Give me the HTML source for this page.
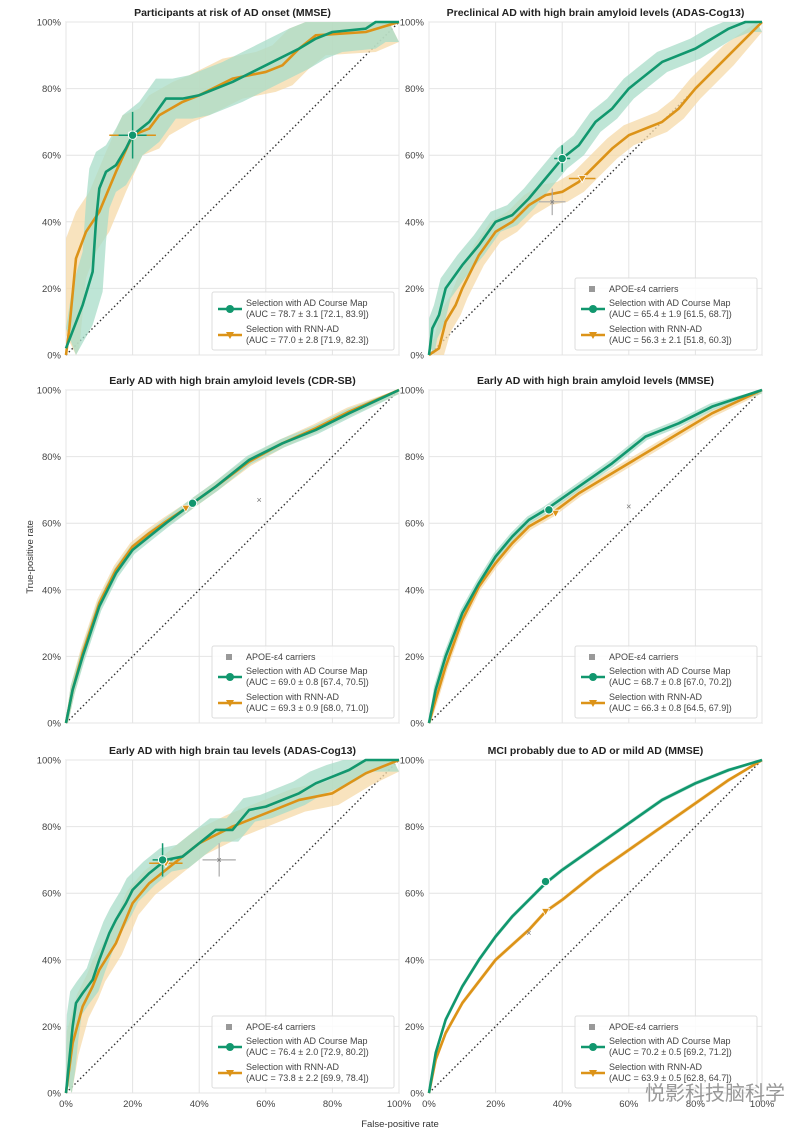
<!DOCTYPE html>
<html><head><meta charset="utf-8"><style>
body{margin:0;background:#fff;}
svg{display:block;font-family:"Liberation Sans","Noto Sans CJK SC",sans-serif;}
</style></head><body>
<svg id="fig" width="811" height="1128" viewBox="0 0 811 1128"></svg>
<script>
// ---- data (FPR, TPR pairs) ----
const titles=["Participants at risk of AD onset (MMSE)","Preclinical AD with high brain amyloid levels (ADAS-Cog13)","Early AD with high brain amyloid levels (CDR-SB)","Early AD with high brain amyloid levels (MMSE)","Early AD with high brain tau levels (ADAS-Cog13)","MCI probably due to AD or mild AD (MMSE)"];
const ticks=[0,0.2,0.4,0.6,0.8,1.0];
const tickLabels=["0%","20%","40%","60%","80%","100%"];
const greenFpr=[
[0,0.05,0.08,0.09,0.10,0.12,0.15,0.18,0.20,0.25,0.30,0.35,0.40,0.50,0.60,0.70,0.75,0.80,0.90,0.93,1],
[0,0.01,0.03,0.05,0.10,0.15,0.20,0.25,0.30,0.35,0.40,0.45,0.50,0.55,0.60,0.70,0.80,0.85,0.90,0.95,1],
[0,0.02,0.05,0.10,0.15,0.20,0.25,0.30,0.38,0.45,0.55,0.65,0.75,0.85,1],
[0,0.02,0.05,0.10,0.15,0.20,0.25,0.30,0.35,0.45,0.55,0.65,0.75,0.85,1],
[0,0.01,0.02,0.03,0.05,0.08,0.10,0.13,0.15,0.18,0.20,0.25,0.30,0.35,0.40,0.45,0.50,0.55,0.60,0.70,0.75,0.80,0.85,0.90,1],
[0,0.02,0.05,0.10,0.15,0.20,0.25,0.30,0.35,0.40,0.50,0.60,0.70,0.80,0.90,1]];
const greenTpr=[
[0.02,0.15,0.25,0.40,0.50,0.55,0.57,0.62,0.66,0.70,0.77,0.77,0.78,0.82,0.87,0.92,0.95,0.97,0.98,1,1],
[0,0.08,0.12,0.20,0.27,0.33,0.40,0.42,0.47,0.53,0.59,0.63,0.70,0.74,0.80,0.88,0.92,0.95,0.98,1,1],
[0,0.10,0.20,0.35,0.45,0.52,0.56,0.60,0.66,0.71,0.79,0.84,0.88,0.93,1],
[0,0.10,0.20,0.33,0.42,0.50,0.56,0.61,0.64,0.71,0.78,0.86,0.90,0.95,1],
[0,0.10,0.20,0.27,0.30,0.34,0.40,0.48,0.52,0.57,0.61,0.66,0.70,0.71,0.75,0.79,0.79,0.85,0.86,0.90,0.93,0.95,0.97,1,1],
[0,0.12,0.22,0.32,0.40,0.47,0.53,0.58,0.63,0.67,0.74,0.81,0.88,0.93,0.97,1]];
const orangeFpr=[
[0,0.01,0.03,0.06,0.10,0.15,0.20,0.25,0.28,0.35,0.40,0.50,0.60,0.65,0.70,0.75,0.90,1],
[0,0.03,0.05,0.08,0.10,0.15,0.20,0.25,0.30,0.35,0.40,0.45,0.50,0.55,0.60,0.70,0.75,0.80,0.85,0.90,1],
[0,0.02,0.05,0.10,0.15,0.20,0.25,0.30,0.36,0.45,0.55,0.65,0.75,0.85,1],
[0,0.02,0.05,0.10,0.15,0.20,0.25,0.30,0.37,0.45,0.55,0.65,0.75,0.85,1],
[0,0.02,0.05,0.08,0.10,0.15,0.20,0.25,0.30,0.40,0.50,0.60,0.70,0.80,0.90,1],
[0,0.02,0.05,0.10,0.20,0.30,0.35,0.40,0.50,0.60,0.70,0.80,0.90,1]];
const orangeTpr=[
[0,0.08,0.29,0.37,0.43,0.55,0.66,0.68,0.72,0.76,0.78,0.83,0.85,0.87,0.92,0.96,0.97,1],
[0,0.02,0.10,0.15,0.20,0.30,0.37,0.40,0.45,0.48,0.49,0.52,0.57,0.62,0.66,0.70,0.74,0.80,0.85,0.90,1],
[0,0.10,0.21,0.36,0.46,0.53,0.57,0.605,0.645,0.71,0.785,0.84,0.885,0.935,1],
[0,0.07,0.17,0.31,0.41,0.48,0.54,0.59,0.63,0.69,0.75,0.81,0.87,0.93,1],
[0,0.15,0.26,0.32,0.37,0.45,0.57,0.63,0.67,0.75,0.80,0.84,0.88,0.90,0.96,1],
[0,0.10,0.18,0.27,0.40,0.49,0.545,0.58,0.66,0.73,0.80,0.87,0.94,1]];
const bandWidth=[0.06,0.03,0.012,0.01,0.035,0.005];
const greenPoint=[[0.20,0.66],[0.40,0.59],[0.38,0.66],[0.36,0.64],[0.29,0.70],[0.35,0.635]];
const orangePoint=[[0.20,0.66],[0.46,0.53],[0.36,0.645],[0.38,0.63],[0.30,0.69],[0.35,0.545]];
const apoePoint=[null,[0.37,0.46],[0.58,0.67],[0.60,0.65],[0.46,0.70],[0.30,0.48]];
const greenAuc=["(AUC = 78.7 ± 3.1 [72.1, 83.9])","(AUC = 65.4 ± 1.9 [61.5, 68.7])","(AUC = 69.0 ± 0.8 [67.4, 70.5])","(AUC = 68.7 ± 0.8 [67.0, 70.2])","(AUC = 76.4 ± 2.0 [72.9, 80.2])","(AUC = 70.2 ± 0.5 [69.2, 71.2])"];
const orangeAuc=["(AUC = 77.0 ± 2.8 [71.9, 82.3])","(AUC = 56.3 ± 2.1 [51.8, 60.3])","(AUC = 69.3 ± 0.9 [68.0, 71.0])","(AUC = 66.3 ± 0.8 [64.5, 67.9])","(AUC = 73.8 ± 2.2 [69.9, 78.4])","(AUC = 63.9 ± 0.5 [62.8, 64.7])"];

const G="#11976e",O="#dc9318";
const lefts=[66,429],tops=[22,390,760],S=333;
const NS="http://www.w3.org/2000/svg";
const fig=document.getElementById('fig');
function mk(tag,attrs,parent,txt){const e=document.createElementNS(NS,tag);for(const k in attrs)e.setAttribute(k,attrs[k]);if(txt!==undefined)e.textContent=txt;(parent||fig).appendChild(e);return e;}
function clamp(v){return Math.max(0,Math.min(1,v));}

for(let i=0;i<6;i++){
  const L=lefts[i%2],T=tops[Math.floor(i/2)];
  const sx=v=>L+v*S, sy=v=>T+S-v*S;
  const g=mk('g',{});
  
  
  mk('rect',{x:L,y:T,width:S,height:S,fill:'#fff',stroke:'#ccc','stroke-width':1},g);
  ticks.forEach((t,k)=>{
    mk('line',{x1:sx(t),x2:sx(t),y1:T,y2:T+S,stroke:'#e4e4e4','stroke-width':1},g);
    mk('line',{x1:L,x2:L+S,y1:sy(t),y2:sy(t),stroke:'#e4e4e4','stroke-width':1},g);
    const yl=mk('text',{x:L-5,y:sy(t)+3.5,'text-anchor':'end','font-size':9.5,fill:'#444'},g,tickLabels[k]);
    
    
    if(i>=4){
      const xl=mk('text',{x:sx(t),y:T+S+14,'text-anchor':'middle','font-size':9.5,fill:'#444'},g,tickLabels[k]);
      
      
    }
  });
  const tt=mk('text',{x:L+S/2,y:T-6,'text-anchor':'middle','font-size':10.5,'font-weight':'bold',fill:'#222'},g,titles[i]);
  
  
  const diag=mk('line',{x1:sx(0),y1:sy(0),x2:sx(1),y2:sy(1),stroke:'#333','stroke-width':1.4,'stroke-dasharray':'1.5,2.5'},g);
  
  
  [[greenFpr[i],greenTpr[i],G,'#a8dcc8'],[orangeFpr[i],orangeTpr[i],O,'#f5d9a8']].reverse().forEach(([xs,ys,c,fc],j)=>{
    const w=bandWidth[i];
    let up=xs.map((x,k)=>sx(clamp(x-w*0.5))+','+sy(clamp(ys[k]+w))).join(' ');
    let lo=xs.map((x,k)=>sx(clamp(x+w*0.5))+','+sy(clamp(ys[k]-w))).reverse().join(' ');
    const band=mk('polygon',{points:up+' '+lo,fill:fc,opacity:0.75},g);
    
    
  });
  [[orangeFpr[i],orangeTpr[i],O,'rnn-ad-roc-curve'],[greenFpr[i],greenTpr[i],G,'course-map-roc-curve']].forEach(([xs,ys,c,n])=>{
    const pl=mk('polyline',{points:xs.map((x,k)=>sx(x)+','+sy(ys[k])).join(' '),fill:'none',stroke:c,'stroke-width':2.6,'stroke-linejoin':'round'},g);
    
    
  });
  const ebs=[0.07,0.04,0,0,0.05,0][i];
  if(apoePoint[i]){
    const [ax,ay]=apoePoint[i];
    if(ebs){mk('line',{x1:sx(ax-ebs),x2:sx(ax+ebs),y1:sy(ay),y2:sy(ay),stroke:'#aaa','stroke-width':1.2},g);
      mk('line',{x1:sx(ax),x2:sx(ax),y1:sy(ay-ebs),y2:sy(ay+ebs),stroke:'#aaa','stroke-width':1.2},g);}
    const am=mk('text',{x:sx(ax),y:sy(ay)+3,'text-anchor':'middle','font-size':9,fill:'#777'},g,'×');
    
    
  }
  const [ox,oy]=orangePoint[i];
  if(ebs){mk('line',{x1:sx(ox-ebs),x2:sx(ox+ebs),y1:sy(oy),y2:sy(oy),stroke:O,'stroke-width':1.5},g);}
  const om=mk('path',{d:`M${sx(ox)-4},${sy(oy)-3} L${sx(ox)+4},${sy(oy)-3} L${sx(ox)},${sy(oy)+4} Z`,fill:O,stroke:'#fff','stroke-width':0.8},g);
  
  
  const [gx,gy]=greenPoint[i];
  if(ebs){mk('line',{x1:sx(gx),x2:sx(gx),y1:sy(gy-ebs),y2:sy(gy+ebs),stroke:G,'stroke-width':1.5},g);
    mk('line',{x1:sx(gx-ebs*0.6),x2:sx(gx+ebs*0.6),y1:sy(gy),y2:sy(gy),stroke:G,'stroke-width':1.5},g);}
  const gm=mk('circle',{cx:sx(gx),cy:sy(gy),r:4.2,fill:G,stroke:'#fff','stroke-width':1},g);
  
  
  // legend
  const hasA=!!apoePoint[i];
  const lh=hasA?72:58, lw=182, lx=L+S-lw-5, ly=T+S-lh-5;
  const lg=mk('g',{},g);
  
  
  mk('rect',{x:lx,y:ly,width:lw,height:lh,fill:'#fff','fill-opacity':0.85,stroke:'#ddd',rx:2},lg);
  let yy=ly+(hasA?14:0);
  if(hasA){
    mk('rect',{x:lx+14,y:ly+8,width:6,height:6,fill:'#999'},lg);
    mk('text',{x:lx+34,y:ly+14,'font-size':9,fill:'#444'},lg,'APOE-ε4 carriers');
  }
  mk('line',{x1:lx+6,x2:lx+30,y1:yy+17,y2:yy+17,stroke:G,'stroke-width':2.4},lg);
  mk('circle',{cx:lx+18,cy:yy+17,r:4,fill:G},lg);
  mk('text',{x:lx+34,y:yy+14,'font-size':9,fill:'#444'},lg,'Selection with AD Course Map');
  mk('text',{x:lx+34,y:yy+25,'font-size':9,fill:'#444'},lg,greenAuc[i]);
  yy+=26;
  mk('line',{x1:lx+6,x2:lx+30,y1:yy+17,y2:yy+17,stroke:O,'stroke-width':2.4},lg);
  mk('path',{d:`M${lx+14},${yy+14} L${lx+22},${yy+14} L${lx+18},${yy+21} Z`,fill:O},lg);
  mk('text',{x:lx+34,y:yy+14,'font-size':9,fill:'#444'},lg,'Selection with RNN-AD');
  mk('text',{x:lx+34,y:yy+25,'font-size':9,fill:'#444'},lg,orangeAuc[i]);
}
const yt=mk('text',{x:0,y:0,'font-size':9.5,fill:'#333','text-anchor':'middle',transform:'translate(33,557) rotate(-90)'},fig,'True-positive rate');


const xt=mk('text',{x:400,y:1127,'font-size':9.5,fill:'#333','text-anchor':'middle'},fig,'False-positive rate');


const wm=mk('text',{x:645,y:1100,'font-size':20,fill:'#999'},fig,'悦影科技脑科学');


</script>
</body></html>
